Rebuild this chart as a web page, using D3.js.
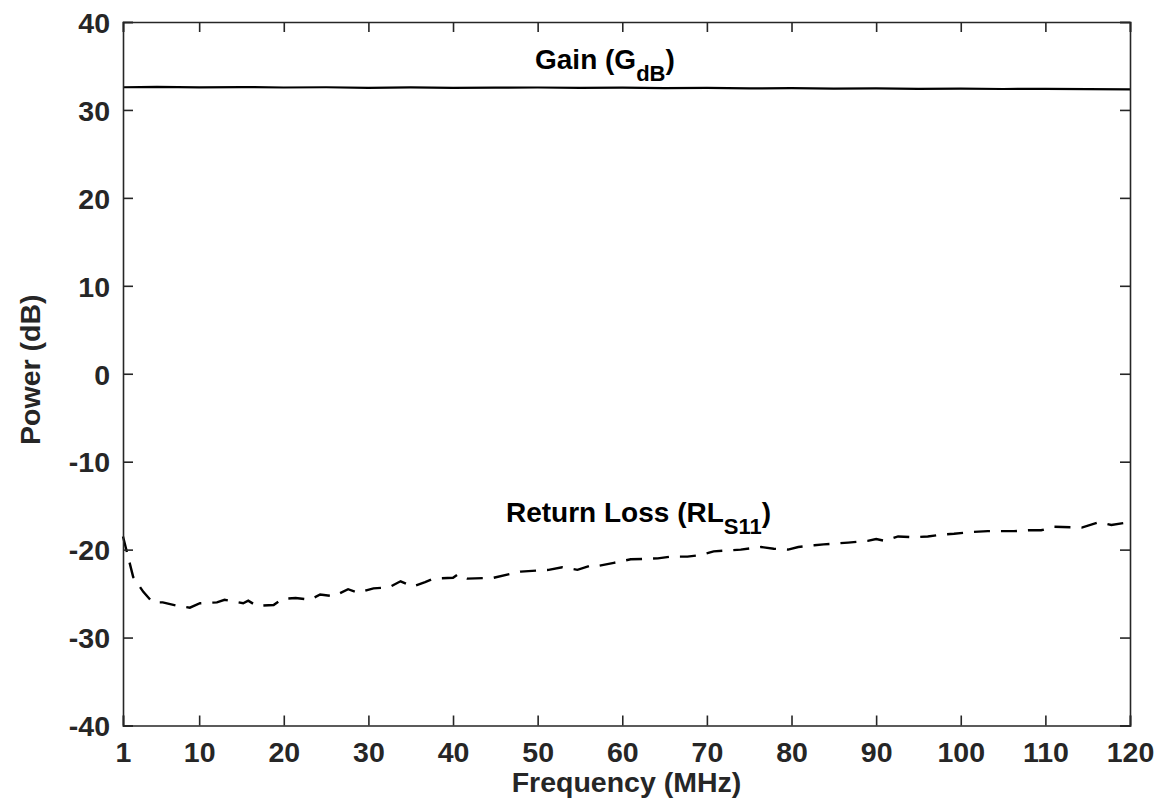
<!DOCTYPE html>
<html>
<head>
<meta charset="utf-8">
<script src="https://cdn.jsdelivr.net/npm/d3@7"></script>
<style>
  body { margin: 0; background: #fff; }
  svg { display: block; }
  text { font-family: "Liberation Sans", Arial, Helvetica, sans-serif; font-weight: bold; }
</style>
</head>
<body>
<svg id="chart" width="1164" height="806"></svg>
<script>
// ---- Data ----
const xTicks = [1, 10, 20, 30, 40, 50, 60, 70, 80, 90, 100, 110, 120];
const yTicks = [-40, -30, -20, -10, 0, 10, 20, 30, 40];

const gainFreq = [1, 5, 10, 15, 20, 25, 30, 35, 40, 45, 50, 55, 60, 65, 70, 75, 80, 85, 90, 95, 100, 105, 110, 115, 120];
const gainDb   = [32.58, 32.62, 32.56, 32.6, 32.55, 32.58, 32.52, 32.56, 32.5, 32.53, 32.55, 32.5, 32.53, 32.48, 32.5, 32.45, 32.48, 32.42, 32.45, 32.4, 32.43, 32.38, 32.4, 32.36, 32.34];

const rlFreq = [1, 2.2, 3.4, 4.5, 5.7, 7.5, 8.9, 10.1, 12.1, 13, 15.2, 15.8, 16.8, 18.8, 19.8, 21.4, 23.1, 24.3, 25.9, 27.6, 28.8, 30.6, 32.4, 33.8, 35.2, 36.7, 37.7, 40, 40.6, 41.7, 44.8, 48, 51.3, 52.9, 54.7, 56.3, 56.9, 59, 61, 64.2, 65.7, 67.7, 69.3, 70.8, 74, 76.4, 77.9, 79.6, 80.8, 82.7, 83.8, 86.7, 89, 90, 91, 92.6, 94.5, 96.1, 97.7, 99.2, 101.2, 103.2, 104.5, 106.3, 108, 109.5, 111, 114.3, 116.3, 117.8, 119.8, 120];
const rlDb   = [-18.5, -23.1, -24.8, -26.0, -26.0, -26.4, -26.6, -26.1, -26.0, -25.7, -26.1, -25.8, -26.4, -26.3, -25.6, -25.5, -25.7, -25.1, -25.3, -24.5, -24.9, -24.4, -24.3, -23.6, -24.2, -23.7, -23.3, -23.2, -22.8, -23.3, -23.2, -22.5, -22.3, -22.0, -22.3, -21.8, -21.9, -21.5, -21.1, -21.0, -20.8, -20.8, -20.6, -20.2, -20.0, -19.7, -19.9, -20.0, -19.7, -19.5, -19.4, -19.2, -19.0, -18.8, -19.0, -18.5, -18.6, -18.5, -18.3, -18.2, -18.0, -17.9, -17.9, -17.9, -17.8, -17.8, -17.4, -17.5, -16.9, -17.2, -16.9, -16.8];

const xLabel = "Frequency (MHz)";
const yLabel = "Power (dB)";

// ---- Layout ----
const svg = d3.select("#chart");
const L = 123, R = 1130, T = 22, B = 725.5;
const axisColor = "#262626";
const fontSize = 28.5;

const x = d3.scaleLinear().domain([1, 120]).range([L, R]);
const y = d3.scaleLinear().domain([-40, 40]).range([B, T]);

const g = svg.append("g");

// data lines
const line = d3.line().x(d => x(d[0])).y(d => y(d[1]));
g.append("path")
  .datum(gainFreq.map((f, i) => [f, gainDb[i]]))
  .attr("d", line).attr("fill", "none").attr("stroke", "#000").attr("stroke-width", 2.2);
g.append("path")
  .datum(rlFreq.map((f, i) => [f, rlDb[i]]))
  .attr("d", line).attr("fill", "none").attr("stroke", "#000").attr("stroke-width", 2.4)
  .attr("stroke-dasharray", "16,11");

// axes (MATLAB style: inward ticks, box)
const tick = 10;
const fmt = d => String(d);
const axB = d3.axisBottom(x).tickValues(xTicks).tickSize(-tick).tickPadding(16).tickFormat(fmt);
const axT = d3.axisTop(x).tickValues(xTicks).tickSize(-tick).tickFormat("");
const axLft = d3.axisLeft(y).tickValues(yTicks).tickSize(-tick).tickPadding(tick + 3).tickFormat(fmt);
const axRt = d3.axisRight(y).tickValues(yTicks).tickSize(-tick).tickFormat("");

function style(sel) {
  sel.select(".domain").attr("stroke", axisColor).attr("stroke-width", 1.6);
  sel.selectAll(".tick line").attr("stroke", axisColor).attr("stroke-width", 1.6);
  sel.selectAll(".tick text").attr("fill", axisColor).style("font-size", fontSize + "px")
    .style("font-family", "'Liberation Sans', Arial, sans-serif").style("font-weight", "bold");
}
g.append("g").attr("transform", `translate(0,${B})`).call(axB).call(style)
  .selectAll(".tick text").attr("dy", "0.71em");
g.append("g").attr("transform", `translate(0,${T})`).call(axT).call(style);
g.append("g").attr("transform", `translate(${L},0)`).call(axLft).call(style)
  .selectAll(".tick text").attr("dy", "0.36em");
g.append("g").attr("transform", `translate(${R},0)`).call(axRt).call(style);
svg.selectAll(".domain").attr("fill", "none");

// axis labels
svg.append("text").attr("x", (L + R) / 2).attr("y", 792).attr("text-anchor", "middle")
  .attr("fill", axisColor).style("font-size", fontSize + "px").text(xLabel);
svg.append("text").attr("transform", `translate(40,${(T + B) / 2 - 4}) rotate(-90)`)
  .attr("text-anchor", "middle").attr("fill", axisColor).style("font-size", fontSize + "px").text(yLabel);

// annotations
function annot(px, py, main, sub) {
  const t = svg.append("text").attr("x", px).attr("y", py).attr("fill", "#000").style("font-size", "28px");
  t.append("tspan").text(main);
  t.append("tspan").attr("dy", 12).style("font-size", "22px").text(sub);
  t.append("tspan").attr("dy", -12).text(")");
}
annot(535, 69, "Gain (G", "dB");
annot(506, 522, "Return Loss (RL", "S11");
</script>
</body>
</html>
